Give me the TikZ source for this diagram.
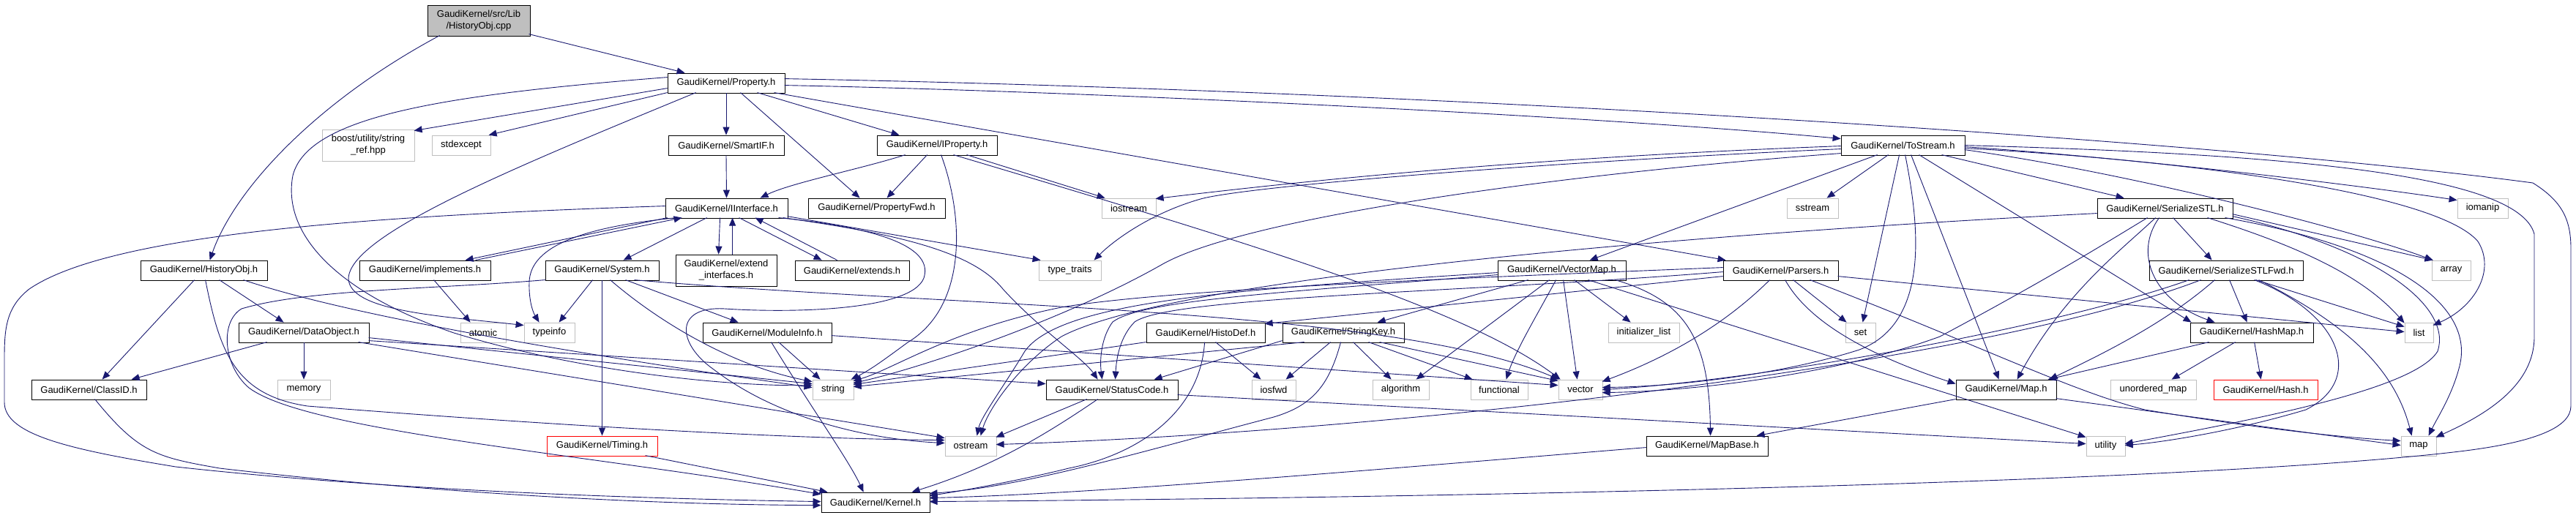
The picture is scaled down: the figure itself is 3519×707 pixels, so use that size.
\documentclass[tikz,border=0pt]{standalone}
\usepackage{fontspec}
\setmainfont{Liberation Sans}
\usetikzlibrary{arrows.meta,calc}
\definecolor{edgec}{HTML}{191970}
\definecolor{sysg}{HTML}{BFBFBF}
\definecolor{rootg}{HTML}{BFBFBF}
\newcommand\doxfont{\fontsize{13pt}{16pt}\selectfont}
\tikzset{
 box/.style={draw=black, line width=0.85pt, inner sep=0pt, font=\doxfont, align=center, minimum height=27pt, text=black},
 sysbox/.style={box, draw=sysg},
 redbox/.style={box, draw=red},
 rootbox/.style={box, fill=rootg},
 e/.style={draw=edgec, line width=0.9pt, -{Triangle[length=11pt,width=9pt]}},
}
\begin{document}
\begin{tikzpicture}[x=1pt,y=-1pt]
\fill[white] (0,0) rectangle (3519,707);
\useasboundingbox (0,0) rectangle (3519,707);
% nodes
\node[rootbox, minimum width=140pt, minimum height=42pt] (cpp) at (654,28) {GaudiKernel/src/Lib\\/HistoryObj.cpp};
\node[box, minimum width=160pt] (Property) at (992,113.5) {GaudiKernel/Property.h};
\node[sysbox, minimum width=126pt, minimum height=43pt] (boost) at (503,198.5) {boost/utility/string\\\_ref.hpp};
\node[sysbox, minimum width=80pt] (stdexcept) at (630,198.5) {stdexcept};
\node[box, minimum width=158pt] (SmartIF) at (992,198.5) {GaudiKernel/SmartIF.h};
\node[box, minimum width=164pt] (IProperty) at (1280,198.5) {GaudiKernel/IProperty.h};
\node[box, minimum width=187pt] (PropertyFwd) at (1197.5,284.5) {GaudiKernel/PropertyFwd.h};
\node[box, minimum width=167pt] (IInterface) at (992.5,284.5) {GaudiKernel/IInterface.h};
\node[box, minimum width=169pt] (ToStream) at (2599.5,198.5) {GaudiKernel/ToStream.h};
\node[sysbox, minimum width=74pt] (iostream) at (1542,284.5) {iostream};
\node[sysbox, minimum width=70pt] (sstream) at (2476,284.5) {sstream};
\node[box, minimum width=185pt] (SerializeSTL) at (2957.5,284.5) {GaudiKernel/SerializeSTL.h};
\node[sysbox, minimum width=69pt] (iomanip) at (3391.5,284.5) {iomanip};
\node[box, minimum width=173pt] (HistoryObj) at (278.5,369.5) {GaudiKernel/HistoryObj.h};
\node[box, minimum width=179pt] (implements) at (580.5,369.5) {GaudiKernel/implements.h};
\node[box, minimum width=155pt] (System) at (822.5,369.5) {GaudiKernel/System.h};
\node[box, minimum width=138pt, minimum height=43pt] (extendif) at (992,369.5) {GaudiKernel/extend\\\_interfaces.h};
\node[box, minimum width=156pt] (extends) at (1164,369.5) {GaudiKernel/extends.h};
\node[sysbox, minimum width=85pt] (typetraits) at (1461.5,369.5) {type\_traits};
\node[box, minimum width=175pt] (VectorMap) at (2133.5,369.5) {GaudiKernel/VectorMap.h};
\node[box, minimum width=157pt] (Parsers) at (2432.5,369.5) {GaudiKernel/Parsers.h};
\node[sysbox, minimum width=53pt] (array) at (3348.5,369.5) {array};
\node[box, minimum width=210pt] (STLFwd) at (3041,369.5) {GaudiKernel/SerializeSTLFwd.h};
\node[box, minimum width=178pt] (DataObject) at (415,454.5) {GaudiKernel/DataObject.h};
\node[sysbox, minimum width=62pt] (atomic) at (660,454.5) {atomic};
\node[sysbox, minimum width=69pt] (typeinfo) at (750.5,454.5) {typeinfo};
\node[box, minimum width=176pt] (ModuleInfo) at (1048,454.5) {GaudiKernel/ModuleInfo.h};
\node[box, minimum width=162pt] (HistoDef) at (1647,454.5) {GaudiKernel/HistoDef.h};
\node[box, minimum width=166pt] (StringKey) at (1835,454.5) {GaudiKernel/StringKey.h};
\node[sysbox, minimum width=97pt] (initlist) at (2245.5,454.5) {initializer\_list};
\node[sysbox, minimum width=41pt] (set) at (2541.5,454.5) {set};
\node[box, minimum width=168pt] (HashMap) at (3076,454.5) {GaudiKernel/HashMap.h};
\node[sysbox, minimum width=39pt] (list) at (3304.5,454.5) {list};
\node[box, minimum width=157pt] (ClassID) at (121.5,532.5) {GaudiKernel/ClassID.h};
\node[sysbox, minimum width=72pt] (memory) at (415,532.5) {memory};
\node[sysbox, minimum width=56pt] (string) at (1138,532.5) {string};
\node[box, minimum width=180pt] (StatusCode) at (1519,532.5) {GaudiKernel/StatusCode.h};
\node[sysbox, minimum width=60pt] (iosfwd) at (1740,532.5) {iosfwd};
\node[sysbox, minimum width=77pt] (algorithm) at (1913.5,532.5) {algorithm};
\node[sysbox, minimum width=78pt] (functional) at (2048,532.5) {functional};
\node[sysbox, minimum width=60pt] (vector) at (2159,532.5) {vector};
\node[box, minimum width=137pt] (Maph) at (2740.5,532.5) {GaudiKernel/Map.h};
\node[sysbox, minimum width=117pt] (umap) at (2941.5,532.5) {unordered\_map};
\node[redbox, minimum width=142pt] (Hash) at (3095,532.5) {GaudiKernel/Hash.h};
\node[redbox, minimum width=151pt] (Timing) at (822.5,609.5) {GaudiKernel/Timing.h};
\node[sysbox, minimum width=70pt] (ostream) at (1326,609.5) {ostream};
\node[box, minimum width=166pt] (MapBase) at (2332,609.5) {GaudiKernel/MapBase.h};
\node[sysbox, minimum width=53pt] (utility) at (2876.5,609.5) {utility};
\node[sysbox, minimum width=48pt] (map) at (3304,609.5) {map};
\node[box, minimum width=148pt] (Kernel) at (1196,686.5) {GaudiKernel/Kernel.h};
% root
\draw[e] ($(cpp.north west)+(139,40)$) -- ($(Property.north west)+(24,0)$);
\draw[e] ($(cpp.north west)+(17,42)$) .. controls (430,140) and (320,260) .. ($(HistoryObj.north west)+(95,0)$);
% Property
\draw[e] ($(Property.north west)+(0,21)$) -- ($(boost.north west)+(126,2)$);
\draw[e] ($(Property.north west)+(0,27)$) -- ($(stdexcept.north west)+(78,0)$);
\draw[e] ($(Property.north west)+(0,6)$) .. controls (600,130) and (420,160) .. (400,240) .. controls (385,320) and (460,400) .. (620,455) .. controls (800,510) and (1000,528) .. ($(string.north west)+(0,8)$);
\draw[e] ($(Property.north west)+(39,27)$) .. controls (700,230) and (480,320) .. (476,380) .. controls (476,425) and (600,432) .. ($(typeinfo.north west)+(0,4)$);
\draw[e] (Property.south) -- (SmartIF.north);
\draw[e] ($(Property.north west)+(123,27)$) -- ($(IProperty.north west)+(31,0)$);
\draw[e] ($(Property.north west)+(100,27)$) -- ($(PropertyFwd.north west)+(71,0)$);
\draw[e] ($(Property.north west)+(160,17)$) .. controls (1500,125) and (2200,160) .. ($(ToStream.north west)+(0,5)$);
\draw[e] ($(Property.north west)+(146,27)$) -- ($(Parsers.north west)+(4,0)$);
\draw[e] ($(Property.north west)+(160,8)$) .. controls (2000,125) and (3050,195) .. (3460,250) .. controls (3500,275) and (3512,300) .. (3512,340) -- (3512,555) .. controls (3512,585) and (3460,605) .. (3360,617) .. controls (3000,660) and (2000,680) .. ($(Kernel.north west)+(148,13)$);
% SmartIF
\draw[e] (SmartIF.south) -- (IInterface.north);
% IProperty
\draw[e] ($(IProperty.north west)+(69,27)$) -- ($(PropertyFwd.north west)+(108,0)$);
\draw[e] ($(IProperty.north west)+(39,27)$) .. controls (1180,230) and (1080,250) .. ($(IInterface.north west)+(130,0)$);
\draw[e] ($(IProperty.north west)+(88,27)$) .. controls (1318,300) and (1320,420) .. (1240,468) .. controls (1210,490) and (1190,505) .. ($(string.north west)+(53,0)$);
\draw[e] ($(IProperty.north west)+(123,27)$) -- ($(iostream.north west)+(5,0)$);
\draw[e] ($(IProperty.north west)+(105,27)$) .. controls (1700,330) and (2000,420) .. ($(vector.north west)+(3,0)$);
% IInterface
\draw[e] ($(IInterface.north west)+(0,11)$) .. controls (500,295) and (150,320) .. (40,395) .. controls (8,420) and (6,450) .. (6,490) -- (6,550) .. controls (6,595) and (100,615) .. (240,638) .. controls (550,672) and (900,682) .. ($(Kernel.north west)+(0,13)$);
\draw[e] ($(IInterface.north west)+(3,27)$) -- ($(implements.north west)+(145,0)$);
\draw[e] ($(implements.north west)+(159,0)$) -- ($(IInterface.north west)+(23,27)$);
\draw[e] ($(IInterface.north west)+(57,27)$) -- ($(System.north west)+(107,0)$);
\draw[e] ($(IInterface.north west)+(75,27)$) -- ($(extendif.north west)+(59,0)$);
\draw[e] ($(extendif.north west)+(78,0)$) -- ($(IInterface.north west)+(92,27)$);
\draw[e] ($(IInterface.north west)+(101,27)$) -- ($(extends.north west)+(37,0)$);
\draw[e] ($(extends.north west)+(58,0)$) -- ($(IInterface.north west)+(123,27)$);
\draw[e] ($(IInterface.north west)+(16,27)$) .. controls (800,310) and (725,335) .. (723,385) .. controls (722,415) and (730,430) .. ($(typeinfo.north west)+(21,0)$);
\draw[e] ($(IInterface.north west)+(167,25)$) -- ($(typetraits.north west)+(3,0)$);
\draw[e] ($(IInterface.north west)+(161,27)$) .. controls (1230,320) and (1330,345) .. (1370,395) .. controls (1420,450) and (1480,490) .. ($(StatusCode.north west)+(71,0)$);
\draw[e] ($(IInterface.north west)+(155,27)$) .. controls (1210,312) and (1275,340) .. (1262,380) .. controls (1245,425) and (1080,428) .. (990,422) .. controls (920,418) and (925,470) .. (975,505) .. controls (1060,570) and (1180,600) .. ($(ostream.north west)+(0,10)$);
% implements, System, ModuleInfo, Timing
\draw[e] ($(implements.north west)+(102,27)$) -- ($(atomic.north west)+(14,0)$);
\draw[e] ($(System.north west)+(65,27)$) -- ($(typeinfo.north west)+(48,0)$);
\draw[e] (System.south) -- (Timing.north);
\draw[e] ($(System.north west)+(89,27)$) .. controls (900,440) and (1000,500) .. ($(string.north west)+(0,3)$);
\draw[e] ($(System.north west)+(110,27)$) -- ($(ModuleInfo.north west)+(49,0)$);
\draw[e] ($(System.north west)+(122,27)$) .. controls (1300,420) and (1900,420) .. ($(vector.north west)+(1,0)$);
\draw[e] ($(System.north west)+(0,27)$) .. controls (600,395) and (420,395) .. (330,422) .. controls (300,440) and (305,500) .. (340,530) .. controls (420,590) and (800,620) .. ($(Kernel.north west)+(0,3)$);
\draw[e] ($(ModuleInfo.north west)+(104,27)$) -- ($(string.north west)+(11,0)$);
\draw[e] ($(ModuleInfo.north west)+(94,27)$) .. controls (1110,560) and (1160,630) .. ($(Kernel.north west)+(58,0)$);
\draw[e] ($(ModuleInfo.north west)+(176,18)$) -- ($(vector.north west)+(0,8)$);
\draw[e] ($(Timing.north west)+(135,27)$) -- ($(Kernel.north west)+(9,0)$);
% HistoryObj, DataObject, ClassID
\draw[e] ($(HistoryObj.north west)+(74,27)$) -- ($(ClassID.north west)+(97,0)$);
\draw[e] ($(HistoryObj.north west)+(108,27)$) -- ($(DataObject.north west)+(62,0)$);
\draw[e] ($(HistoryObj.north west)+(141,27)$) .. controls (500,440) and (900,500) .. ($(string.north west)+(0,11)$);
\draw[e] ($(HistoryObj.north west)+(89,27)$) .. controls (300,480) and (320,540) .. (420,555) .. controls (800,585) and (1100,600) .. ($(ostream.north west)+(0,6)$);
\draw[e] ($(DataObject.north west)+(39,27)$) -- ($(ClassID.north west)+(137,0)$);
\draw[e] (DataObject.south) -- (memory.north);
\draw[e] ($(DataObject.north west)+(178,21)$) -- ($(string.north west)+(0,6)$);
\draw[e] ($(DataObject.north west)+(178,25)$) -- ($(StatusCode.north west)+(0,6)$);
\draw[e] ($(DataObject.north west)+(164,27)$) -- ($(ostream.north west)+(0,3)$);
\draw[e] ($(ClassID.north west)+(87,27)$) .. controls (190,620) and (215,625) .. (300,640) .. controls (600,675) and (900,690) .. ($(Kernel.north west)+(0,18)$);
% StatusCode
\draw[e] ($(StatusCode.north west)+(56,27)$) -- ($(ostream.north west)+(70,2)$);
\draw[e] ($(StatusCode.north west)+(71,27)$) .. controls (1420,600) and (1350,640) .. ($(Kernel.north west)+(124,0)$);
\draw[e] ($(StatusCode.north west)+(180,21)$) -- ($(utility.north west)+(0,11)$);
% ToStream
\draw[e] ($(ToStream.north west)+(0,15)$) .. controls (2100,215) and (1800,245) .. ($(iostream.north west)+(74,1)$);
\draw[e] ($(ToStream.north west)+(0,19)$) .. controls (2100,222) and (1700,255) .. (1640,272) .. controls (1570,292) and (1520,330) .. ($(typetraits.north west)+(76,0)$);
\draw[e] ($(ToStream.north west)+(0,25)$) .. controls (2100,240) and (1700,300) .. (1590,360) .. controls (1450,440) and (1250,505) .. ($(string.north west)+(56,5)$);
\draw[e] ($(ToStream.north west)+(50,27)$) -- ($(VectorMap.north west)+(126,0)$);
\draw[e] ($(ToStream.north west)+(65,27)$) -- ($(sstream.north west)+(55,0)$);
\draw[e] ($(ToStream.north west)+(80,27)$) -- ($(set.north west)+(24,0)$);
\draw[e] ($(ToStream.north west)+(88,27)$) .. controls (2620,300) and (2640,440) .. (2540,478) .. controls (2440,510) and (2300,528) .. ($(vector.north west)+(60,11)$);
\draw[e] ($(ToStream.north west)+(96,27)$) -- ($(Maph.north west)+(59,0)$);
\draw[e] ($(ToStream.north west)+(107,27)$) -- ($(HashMap.north west)+(2,0)$);
\draw[e] ($(ToStream.north west)+(138,27)$) -- ($(SerializeSTL.north west)+(37,0)$);
\draw[e] ($(ToStream.north west)+(169,16)$) .. controls (2900,215) and (3200,250) .. ($(iomanip.north west)+(0,3)$);
\draw[e] ($(ToStream.north west)+(169,20)$) .. controls (2900,235) and (3200,310) .. ($(array.north west)+(2,0)$);
\draw[e] ($(ToStream.north west)+(169,18)$) .. controls (3000,220) and (3330,265) .. (3385,330) .. controls (3410,370) and (3380,420) .. ($(list.north west)+(39,4)$);
\draw[e] ($(ToStream.north west)+(169,14)$) .. controls (3100,210) and (3440,235) .. (3462,320) -- (3462,460) .. controls (3462,525) and (3400,565) .. ($(map.north west)+(48,2)$);
% SerializeSTL
\draw[e] ($(SerializeSTL.north west)+(104,27)$) -- ($(STLFwd.north west)+(86,0)$);
\draw[e] ($(SerializeSTL.north west)+(0,21)$) .. controls (2300,320) and (1600,380) .. (1450,460) .. controls (1390,500) and (1350,560) .. ($(ostream.north west)+(49,0)$);
\draw[e] ($(SerializeSTL.north west)+(69,27)$) .. controls (2880,330) and (2800,380) .. (2650,460) .. controls (2500,515) and (2300,535) .. ($(vector.north west)+(60,18)$);
\draw[e] ($(SerializeSTL.north west)+(80,27)$) .. controls (2900,340) and (2820,400) .. ($(Maph.north west)+(84,0)$);
\draw[e] ($(SerializeSTL.north west)+(85,27)$) .. controls (2915,345) and (2940,410) .. ($(HashMap.north west)+(34,0)$);
\draw[e] ($(SerializeSTL.north west)+(151,27)$) .. controls (3150,340) and (3230,380) .. ($(list.north west)+(0,1)$);
\draw[e] ($(SerializeSTL.north west)+(175,27)$) .. controls (3280,340) and (3380,420) .. (3360,500) .. controls (3350,540) and (3330,570) .. ($(map.north west)+(38,0)$);
\draw[e] ($(SerializeSTL.north west)+(185,22)$) -- ($(array.north west)+(2,0)$);
\draw[e] ($(SerializeSTL.north west)+(185,25)$) .. controls (3250,340) and (3350,420) .. (3330,480) .. controls (3300,530) and (3100,570) .. ($(utility.north west)+(53,11)$);
% SerializeSTLFwd
\draw[e] ($(STLFwd.north west)+(110,27)$) -- ($(HashMap.north west)+(78,0)$);
\draw[e] ($(STLFwd.north west)+(146,27)$) -- ($(list.north west)+(0,6)$);
\draw[e] ($(STLFwd.north west)+(150,27)$) .. controls (3200,440) and (3270,500) .. ($(map.north west)+(15,0)$);
\draw[e] ($(STLFwd.north west)+(55,27)$) .. controls (2800,450) and (2400,520) .. ($(vector.north west)+(60,14)$);
\draw[e] ($(STLFwd.north west)+(90,27)$) .. controls (2960,440) and (2880,480) .. ($(Maph.north west)+(128,0)$);
\draw[e] ($(STLFwd.north west)+(144,27)$) .. controls (3200,430) and (3230,520) .. (3150,560) .. controls (3050,590) and (2950,605) .. ($(utility.north west)+(53,13)$);
\draw[e] ($(STLFwd.north west)+(71,27)$) .. controls (2700,500) and (1900,590) .. ($(ostream.north west)+(70,12)$);
% HashMap, Map, MapBase
\draw[e] ($(HashMap.north west)+(26,27)$) -- ($(Maph.north west)+(126,0)$);
\draw[e] ($(HashMap.north west)+(62,27)$) -- ($(umap.north west)+(84,0)$);
\draw[e] ($(HashMap.north west)+(88,27)$) -- ($(Hash.north west)+(65,0)$);
\draw[e] ($(Maph.north west)+(0,27)$) -- ($(MapBase.north west)+(151,0)$);
\draw[e] ($(Maph.north west)+(137,26)$) -- ($(map.north west)+(0,13)$);
\draw[e] ($(MapBase.north west)+(0,16)$) .. controls (1900,640) and (1500,675) .. ($(Kernel.north west)+(148,8)$);
% Parsers
\draw[e] ($(Parsers.north west)+(0,22)$) -- ($(HistoDef.north west)+(162,2)$);
\draw[e] ($(Parsers.north west)+(85,27)$) .. controls (2465,430) and (2530,478) .. ($(Maph.north west)+(0,6)$);
\draw[e] ($(Parsers.north west)+(96,27)$) -- ($(set.north west)+(2,0)$);
\draw[e] ($(Parsers.north west)+(157,22)$) -- ($(list.north west)+(0,13)$);
\draw[e] ($(Parsers.north west)+(119,27)$) .. controls (2700,470) and (2830,535) .. (2930,560) .. controls (3080,585) and (3200,598) .. ($(map.north west)+(0,7)$);
\draw[e] ($(Parsers.north west)+(0,10)$) .. controls (2000,380) and (1600,395) .. (1450,420) .. controls (1300,450) and (1220,505) .. ($(string.north west)+(56,2)$);
\draw[e] ($(Parsers.north west)+(64,27)$) .. controls (2370,430) and (2300,480) .. ($(vector.north west)+(60,3)$);
\draw[e] ($(Parsers.north west)+(0,16)$) .. controls (2000,400) and (1600,405) .. (1550,440) .. controls (1530,460) and (1525,490) .. ($(StatusCode.north west)+(95,0)$);
% VectorMap
\draw[e] ($(VectorMap.north west)+(42,27)$) -- ($(StringKey.north west)+(130,0)$);
\draw[e] ($(VectorMap.north west)+(71,27)$) -- ($(algorithm.north west)+(60,0)$);
\draw[e] ($(VectorMap.north west)+(80,27)$) .. controls (2100,430) and (2070,480) .. ($(functional.north west)+(49,0)$);
\draw[e] ($(VectorMap.north west)+(90,27)$) -- ($(vector.north west)+(26,0)$);
\draw[e] ($(VectorMap.north west)+(105,27)$) -- ($(initlist.north west)+(31,0)$);
\draw[e] ($(VectorMap.north west)+(124,27)$) -- ($(utility.north west)+(0,2)$);
\draw[e] ($(VectorMap.north west)+(161,27)$) .. controls (2300,410) and (2335,460) .. ($(MapBase.north west)+(88,0)$);
\draw[e] ($(VectorMap.north west)+(0,17)$) .. controls (1700,395) and (1450,410) .. (1400,480) .. controls (1370,530) and (1340,570) .. ($(ostream.north west)+(44,0)$);
\draw[e] ($(VectorMap.north west)+(0,20)$) .. controls (1750,400) and (1560,410) .. (1520,440) .. controls (1505,460) and (1502,490) .. ($(StatusCode.north west)+(77,0)$);
% StringKey
\draw[e] ($(StringKey.north west)+(66,27)$) -- ($(iosfwd.north west)+(47,0)$);
\draw[e] ($(StringKey.north west)+(97,27)$) -- ($(algorithm.north west)+(26,0)$);
\draw[e] ($(StringKey.north west)+(118,27)$) -- ($(functional.north west)+(3,0)$);
\draw[e] ($(StringKey.north west)+(133,27)$) -- ($(vector.north west)+(0,2)$);
\draw[e] ($(StringKey.north west)+(30,27)$) -- ($(string.north west)+(56,10)$);
\draw[e] ($(StringKey.north west)+(0,25)$) -- ($(StatusCode.north west)+(148,0)$);
\draw[e] ($(StringKey.north west)+(80,27)$) .. controls (1815,530) and (1790,555) .. (1740,570) .. controls (1550,620) and (1400,665) .. ($(Kernel.north west)+(148,2)$);
% HistoDef
\draw[e] ($(HistoDef.north west)+(95,27)$) -- ($(iosfwd.north west)+(13,0)$);
\draw[e] ($(HistoDef.north west)+(0,27)$) -- ($(string.north west)+(56,7)$);
\draw[e] ($(HistoDef.north west)+(80,27)$) .. controls (1640,560) and (1560,620) .. (1460,640) .. controls (1400,655) and (1320,670) .. ($(Kernel.north west)+(148,5)$);
\end{tikzpicture}
\end{document}
